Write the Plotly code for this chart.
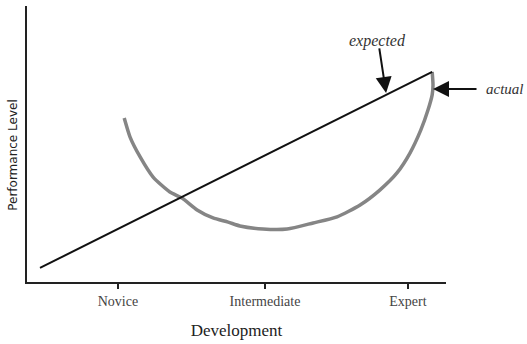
import plotly.graph_objects as go

# x runs 0..100 across the axis, y 0..100 up the axis
stage_pos = [21.7, 56.8, 90.9]
stage_names = ["Novice", "Intermediate", "Expert"]

expected_x = [3.1, 96.7]
expected_y = [5.1, 76.1]

actual_x = [23.2, 24.6, 27.0, 30.1, 34.1, 37.0, 40.6, 44.4, 48.0, 50.8, 56.3, 62.1,
            68.3, 74.0, 79.5, 84.2, 88.3, 91.4, 94.0, 95.7, 96.7, 96.9, 96.7]
actual_y = [59.4, 52.5, 45.3, 38.0, 32.6, 30.4, 26.1, 23.2, 21.7, 20.3, 19.2, 19.2,
            21.4, 23.6, 27.9, 33.3, 39.5, 46.7, 55.1, 62.3, 67.8, 71.4, 76.1]

serif = "Liberation Serif"

fig = go.Figure()

# actual performance (grey dip)
fig.add_trace(go.Scatter(
    x=actual_x, y=actual_y, mode="lines",
    line=dict(color="#858585", width=3.5, shape="spline", smoothing=0.6),
    hoverinfo="skip"
))

# expected performance (straight line)
fig.add_trace(go.Scatter(
    x=expected_x, y=expected_y, mode="lines",
    line=dict(color="#111111", width=2),
    hoverinfo="skip"
))

# arrows + labels
fig.add_annotation(x=85.7, y=68.5, ax=-7, ay=-46, text="",
                   showarrow=True, arrowhead=2, arrowsize=1.6, arrowwidth=2,
                   arrowcolor="#111111")
fig.add_annotation(x=83.7, y=87.3, text="expected", showarrow=False,
                   font=dict(family=serif, size=16, color="#333333", style="italic"),
                   xanchor="center", yanchor="middle")
fig.add_annotation(x=96.9, y=69.9, ax=45, ay=0, text="",
                   showarrow=True, arrowhead=2, arrowsize=1.6, arrowwidth=2,
                   arrowcolor="#111111")
fig.add_annotation(x=1.09, xref="paper", y=69.9, text="actual", showarrow=False,
                   font=dict(family=serif, size=15, color="#333333", style="italic"),
                   xanchor="left", yanchor="middle")

# y axis title
fig.add_annotation(x=-0.034, xref="paper", y=46, text="Performance Level",
                   textangle=-90, showarrow=False,
                   font=dict(family="DejaVu Sans", size=12, color="#222222"),
                   xanchor="center", yanchor="middle")

fig.update_xaxes(
    range=[0, 100], showgrid=False, zeroline=False, automargin=False,
    showline=True, linecolor="#222222", linewidth=2,
    tickvals=stage_pos, ticktext=stage_names,
    ticks="outside", ticklen=5, tickwidth=2, tickcolor="#222222",
    tickfont=dict(family=serif, size=14, color="#444444"),
    title=dict(text="Development", standoff=16,
               font=dict(family=serif, size=17, color="#222222"))
)
fig.update_yaxes(
    range=[0, 100], showgrid=False, zeroline=False, automargin=False,
    showline=True, linecolor="#222222", linewidth=2,
    showticklabels=False, ticks=""
)

fig.update_layout(
    width=527, height=344,
    margin=dict(l=27, r=81, t=6, b=62),
    paper_bgcolor="white", plot_bgcolor="white",
    showlegend=False
)

# page body has an 8px default margin; drop it so the figure sits at 0,0
fig.write_html("out.html", config={"displayModeBar": False},
               post_script="document.body.style.margin='0';")
